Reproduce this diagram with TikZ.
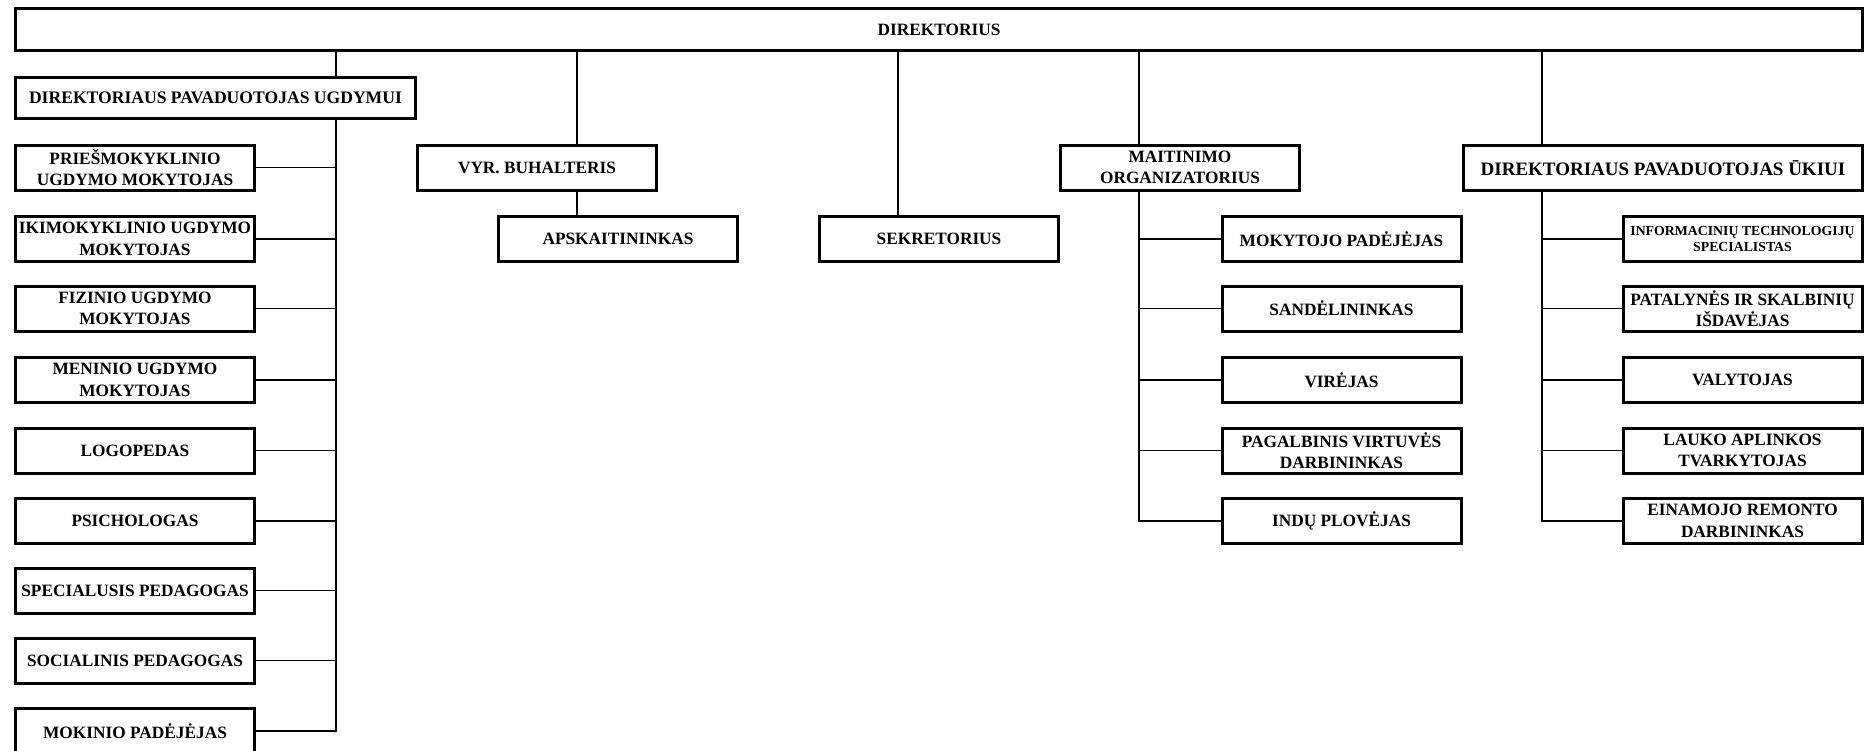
\documentclass[tikz,border=0pt]{standalone}
\usepackage{fontspec}
\setmainfont{Liberation Serif}
\begin{document}
\begin{tikzpicture}[x=1pt,y=-1pt,
  box/.style={draw, line width=3pt, rectangle, inner sep=0pt, align=center,
    font=\bfseries\fontsize{17.3}{21.5}\selectfont,
    minimum width=239pt, minimum height=45pt},
  conn/.style={line width=1.4pt}]
\fill[white] (0,0) rectangle (1870,750);
\useasboundingbox (0,0) rectangle (1870,750);
% positions of vertical connectors
\coordinate (cL) at (336,0);
\coordinate (cV) at (577,0);
\coordinate (cS) at (898,0);
\coordinate (cM) at (1139,0);
\coordinate (cU) at (1542,0);
% top
\node[box, minimum width=1847pt, minimum height=42pt] (dir) at (939,29.5) {DIREKTORIUS};
% left column
\node[box, minimum width=400pt, minimum height=41pt, font=\bfseries\fontsize{17.6}{21.5}\selectfont] (dpu) at (215.5,98) {DIREKTORIAUS PAVADUOTOJAS UGDYMUI};
\node[box] (l1) at (135,167.5) {PRIEŠMOKYKLINIO\\UGDYMO MOKYTOJAS};
\node[box] (l2) at (135,239) {IKIMOKYKLINIO UGDYMO\\MOKYTOJAS};
\node[box] (l3) at (135,308.5) {FIZINIO UGDYMO\\MOKYTOJAS};
\node[box] (l4) at (135,380) {MENINIO UGDYMO\\MOKYTOJAS};
\node[box] (l5) at (135,450.5) {LOGOPEDAS};
\node[box] (l6) at (135,521) {PSICHOLOGAS};
\node[box] (l7) at (135,590.5) {SPECIALUSIS PEDAGOGAS};
\node[box] (l8) at (135,660.5) {SOCIALINIS PEDAGOGAS};
\node[box] (l9) at (135,731) {MOKINIO PADĖJĖJAS};
% accounting
\node[box] (vyr) at (537,167.5) {VYR. BUHALTERIS};
\node[box] (apsk) at (618,239) {APSKAITININKAS};
\node[box] (sek) at (939,239) {SEKRETORIUS};
% catering
\node[box] (mait) at (1180,167.5) {MAITINIMO\\ORGANIZATORIUS};
\node[box] (m1) at (1341.5,239) {MOKYTOJO PADĖJĖJAS};
\node[box] (m2) at (1341.5,308.5) {SANDĖLININKAS};
\node[box] (m3) at (1341.5,380) {VIRĖJAS};
\node[box] (m4) at (1341.5,450.5) {PAGALBINIS VIRTUVĖS\\DARBININKAS};
\node[box] (m5) at (1341.5,521) {INDŲ PLOVĖJAS};
% household
\node[box, minimum width=399pt, font=\bfseries\fontsize{19}{21.5}\selectfont] (uk) at (1663,168) {DIREKTORIAUS PAVADUOTOJAS ŪKIUI};
\node[box, font=\bfseries\fontsize{13.8}{15.5}\selectfont] (u1) at (1742.5,239) {INFORMACINIŲ TECHNOLOGIJŲ\\SPECIALISTAS};
\node[box] (u2) at (1742.5,308.5) {PATALYNĖS IR SKALBINIŲ\\IŠDAVĖJAS};
\node[box] (u3) at (1742.5,380) {VALYTOJAS};
\node[box] (u4) at (1742.5,450.5) {LAUKO APLINKOS\\TVARKYTOJAS};
\node[box] (u5) at (1742.5,521) {EINAMOJO REMONTO\\DARBININKAS};
% connectors
\draw[conn] (dir.south -| cL) -- (dpu.north -| cL);
\draw[conn] (dpu.south -| cL) |- (l9.east);
\foreach \i in {1,...,8} \draw[conn] (l\i.east) -- (l\i.east -| cL);
\draw[conn] (dir.south -| cV) -- (vyr.north -| cV);
\draw[conn] (vyr.south -| cV) -- (apsk.north -| cV);
\draw[conn] (dir.south -| cS) -- (sek.north -| cS);
\draw[conn] (dir.south -| cM) -- (mait.north -| cM);
\draw[conn] (mait.south -| cM) |- (m5.west);
\foreach \i in {1,...,4} \draw[conn] (m\i.west) -- (m\i.west -| cM);
\draw[conn] (dir.south -| cU) -- (uk.north -| cU);
\draw[conn] (uk.south -| cU) |- (u5.west);
\foreach \i in {1,...,4} \draw[conn] (u\i.west) -- (u\i.west -| cU);
\end{tikzpicture}
\end{document}
